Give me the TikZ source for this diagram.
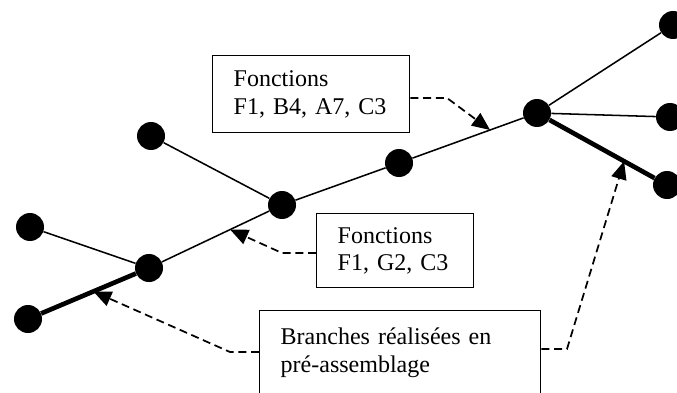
\documentclass[tikz,border=0pt]{standalone}
\usepackage{fontspec}
\setmainfont{Liberation Serif}
\usepackage{tikz}
\usetikzlibrary{arrows.meta,positioning,calc}

\begin{document}
\begin{tikzpicture}[
    x=0.75pt, y=-0.75pt,
    dot/.style={circle, fill=black, inner sep=0pt, minimum size=21pt},
    branch/.style={line width=1.15pt},
    prebranch/.style={line width=3.5pt},
    infobox/.style={draw, line width=1.1pt, anchor=north west, align=left,
                    inner xsep=15.75pt, font=\fontsize{18}{20.7}\selectfont},
    callout/.style={-{Triangle[length=13.5pt, width=11.5pt]}, line width=1.3pt,
                    dash pattern=on 6pt off 3.5pt}
]
    \useasboundingbox (0,0) rectangle (677,392);

    % Harness points
    \node[dot] (A) at (30,227) {};
    \node[dot] (B) at (28,319) {};
    \node[dot] (C) at (149,268) {};
    \node[dot] (D) at (282,205) {};
    \node[dot] (E) at (151,136) {};
    \node[dot] (F) at (399,163) {};
    \node[dot] (G) at (537,113) {};
    \node[dot] (H) at (673,25) {};
    \node[dot] (I) at (670,117) {};
    \node[dot] (J) at (667,185) {};

    % Branches
    \draw[branch] (A) -- (C);
    \draw[prebranch] (B) -- (C);
    \draw[branch] (C) -- (D);
    \draw[branch] (E) -- (D);
    \draw[branch] (D) -- (F);
    \draw[branch] (F) -- (G);
    \draw[branch] (G) -- (H);
    \draw[branch] (G) -- (I);
    \draw[prebranch] (G) -- (J);

    % Text boxes
    \node[infobox, text width=116.25pt, minimum height=57.75pt] (fonc1) at (212,55)
        {Fonctions\\F1, B4, A7, C3};
    \node[infobox, text width=86.25pt, minimum height=55.5pt] (fonc2) at (316,213)
        {Fonctions\\F1, G2, C3};
    \node[infobox, text width=179.25pt, inner ysep=12.75pt, text depth=36pt] (prea) at (259,310)
        {Branches réalisées en\\pré-assemblage};

    % Callout arrows
    \coordinate (tip1) at ($(F)!0.66!(G)$);
    \coordinate (kink1) at (447,98);
    \draw[callout] (fonc1.east |- kink1) -- (kink1) -- (tip1);

    \coordinate (tip2) at ($(C)!0.61!(D)$);
    \coordinate (kink2) at (282,253);
    \draw[callout] (fonc2.west |- kink2) -- (kink2) -- (tip2);

    \coordinate (tip3) at ($(B)!0.54!(C)$);
    \coordinate (kink3) at (230,352);
    \draw[callout] (prea.west |- kink3) -- (kink3) -- (tip3);

    \coordinate (tip4) at ($(G)!0.67!(J)$);
    \coordinate (kink4) at (567,349);
    \draw[callout] (prea.east |- kink4) -- (kink4) -- (tip4);
\end{tikzpicture}
\end{document}
